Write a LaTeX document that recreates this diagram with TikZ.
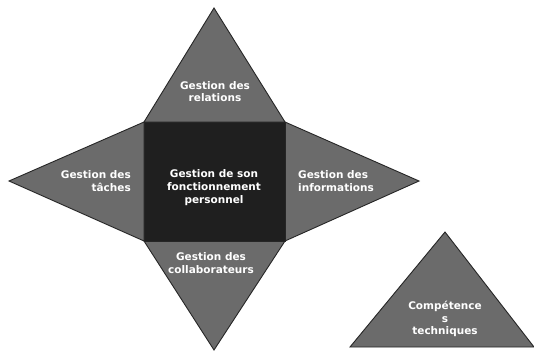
\documentclass[tikz,border=0pt]{standalone}
\usepackage{fontspec}
\setmainfont{DejaVu Sans}
\tikzset{
  x=1pt,y=-1pt,
  face/.style={fill=black!58,draw=black!85,line width=0.9pt,line join=miter},
  core/.style={fill=black!88,draw=black!85,line width=0.6pt},
  lbl/.style={text=white,font=\bfseries\fontsize{10.5}{12.6}\selectfont,align=center,inner sep=0pt},
}
\begin{document}
\begin{tikzpicture}
\useasboundingbox (0,0) rectangle (534,351);
\fill[white] (0,0) rectangle (534,351);
\coordinate (tl) at (144,122);
\coordinate (tr) at (285,122);
\coordinate (bl) at (144,241);
\coordinate (br) at (285,241);
\coordinate (top) at (214,8);
\coordinate (left) at (9,181);
\coordinate (right) at (419,181);
\coordinate (bot) at (214,350);
\coordinate (ct) at (445,232);
\coordinate (cl) at (350,347);
\coordinate (cr) at (534,347);
\draw[face] (tl) -- (top) -- (tr) -- cycle;
\draw[face] (tl) -- (left) -- (bl) -- cycle;
\draw[face] (tr) -- (right) -- (br) -- cycle;
\draw[face] (bl) -- (bot) -- (br) -- cycle;
\draw[face] (cl) -- (ct) -- (cr) -- cycle;
\draw[core] (tl) rectangle (br);
\node[lbl] (n1) at (215,91.5) {Gestion des\\relations};
\node[lbl,align=right,anchor=east] (n2) at (131,181) {Gestion des\\tâches};
\node[lbl] (n3) at (214,187.5) {Gestion de son\\fonctionnement\\personnel};
\node[lbl,align=left,anchor=west] (n4) at (298,181) {Gestion des\\informations};
\node[lbl] (n5) at (211,263) {Gestion des\\collaborateurs};
\node[lbl] (n6) at (445,319) {Compétence\\s\\techniques};
\end{tikzpicture}
\end{document}
